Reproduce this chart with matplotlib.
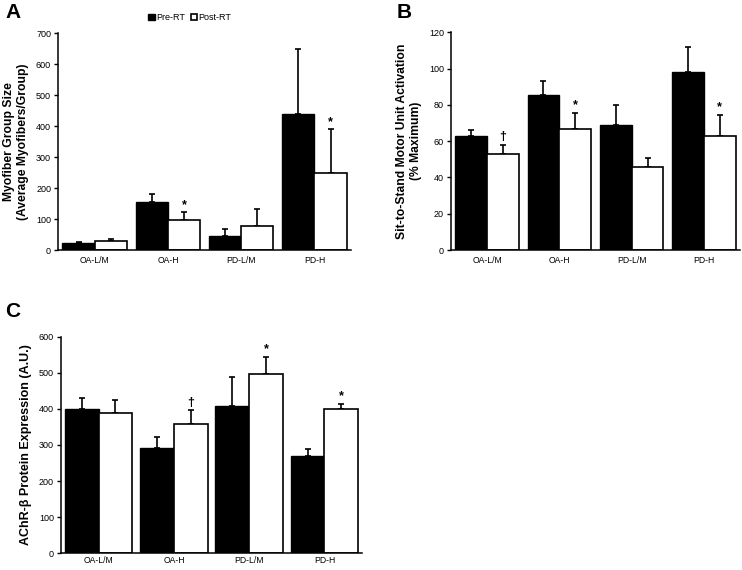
import numpy as np
import matplotlib.pyplot as plt

plt.rcParams['font.family'] = ['Liberation Sans', 'DejaVu Sans']

groups = ['OA-L/M', 'OA-H', 'PD-L/M', 'PD-H']

# panel A: myofiber group size
a_pre = [23, 154, 46, 440]
a_pre_err = [2, 27, 21, 209]
a_post = [29, 96, 78, 249]
a_post_err = [6, 26, 53, 140]
a_marks = ['', '*', '', '*']

# panel B: sit-to-stand motor unit activation
b_pre = [62.9, 85.2, 68.8, 98.1]
b_pre_err = [3.3, 7.8, 11.2, 13.9]
b_post = [52.9, 66.6, 45.8, 62.9]
b_post_err = [5.1, 9.1, 4.7, 11.7]
b_marks = ['\u2020', '*', '', '*']

# panel C: AChR-beta protein expression
c_pre = [401, 293, 407, 269]
c_pre_err = [30, 29, 82, 21]
c_post = [389, 358, 498, 399]
c_post_err = [35, 39, 47, 15]
c_marks = ['', '\u2020', '*', '*']


def bar_panel(ax, pre, pre_err, post, post_err, marks, ymax, ystep, width=0.44):
    x = np.arange(len(groups))
    ax.bar(x - width / 2, pre, width, color='black', edgecolor='black', linewidth=1.0,
           label='Pre-RT', zorder=2)
    ax.bar(x + width / 2, post, width, color='white', edgecolor='black', linewidth=1.2,
           label='Post-RT', zorder=2)
    ax.errorbar(x - width / 2, pre, yerr=[np.zeros(len(pre)), pre_err], fmt='none',
                ecolor='black', elinewidth=1.2, capsize=2, capthick=1.2, zorder=1)
    ax.errorbar(x + width / 2, post, yerr=[np.zeros(len(post)), post_err], fmt='none',
                ecolor='black', elinewidth=1.2, capsize=2, capthick=1.2, zorder=1)
    for xi, top, m in zip(x + width / 2, np.array(post) + np.array(post_err), marks):
        if m:
            ax.annotate(m, (xi, top), xytext=(0, 1), textcoords='offset points',
                        ha='center', va='bottom', fontsize=9, fontweight='bold')
    ax.set_xlim(-0.5, len(groups) - 0.5)
    ax.set_ylim(0, ymax)
    ax.set_yticks(np.arange(0, ymax + 1, ystep))
    ax.set_xticks(x)
    ax.set_xticklabels(groups)
    ax.tick_params(axis='x', length=0, labelsize=6.2, pad=4)
    ax.tick_params(axis='y', length=3, width=1, labelsize=6.5, pad=2)
    for s in ['top', 'right']:
        ax.spines[s].set_visible(False)
    for s in ['left', 'bottom']:
        ax.spines[s].set_linewidth(1.1)


fig = plt.figure(figsize=(7.42, 5.70), dpi=100)

ax_a = fig.add_axes([0.0782, 0.5614, 0.395, 0.3807])
bar_panel(ax_a, a_pre, a_pre_err, a_post, a_post_err, a_marks, 700, 100)
ax_a.set_ylabel('Myofiber Group Size\n(Average Myofibers/Group)', fontsize=8.7,
                fontweight='bold', labelpad=5)
ax_a.legend(loc='lower center', bbox_to_anchor=(0.45, 1.03), ncol=2, frameon=False,
            fontsize=6.5, handlelength=0.7, handleheight=0.7, handletextpad=0.2,
            columnspacing=0.6, borderaxespad=0.1)

ax_b = fig.add_axes([0.6078, 0.5614, 0.3895, 0.382])
bar_panel(ax_b, b_pre, b_pre_err, b_post, b_post_err, b_marks, 120, 20)
ax_b.set_ylabel('Sit-to-Stand Motor Unit Activation\n(% Maximum)', fontsize=8.7,
                fontweight='bold', labelpad=5)

ax_c = fig.add_axes([0.0822, 0.0298, 0.4057, 0.379])
bar_panel(ax_c, c_pre, c_pre_err, c_post, c_post_err, c_marks, 600, 100, width=0.447)
ax_c.tick_params(axis='x', pad=2)
ax_c.set_ylabel('AChR-\u03b2 Protein Expression (A.U.)', fontsize=9,
                fontweight='bold', labelpad=5)

fig.text(0.007, 0.995, 'A', fontsize=15, fontweight='bold', va='top')
fig.text(0.535, 0.995, 'B', fontsize=15, fontweight='bold', va='top')
fig.text(0.007, 0.47, 'C', fontsize=15, fontweight='bold', va='top')

fig.savefig('out.png', dpi=100)
